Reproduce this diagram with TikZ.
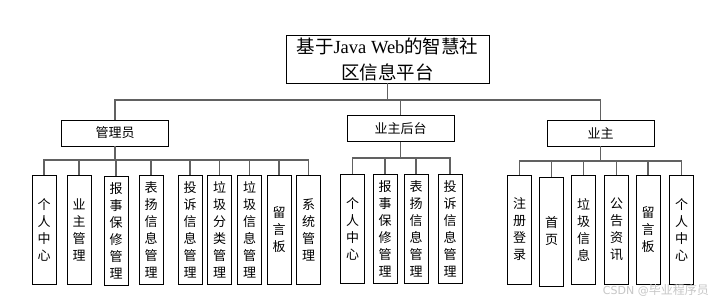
\documentclass[tikz,border=0pt]{standalone}
\usepackage{fontspec}
\setmainfont{Liberation Serif}
\newfontfamily\cjk{Noto Sans CJK SC}
\begin{document}
\begin{tikzpicture}[x=1pt,y=-1pt,
  box/.style={draw=black,line width=0.9pt,fill=white,inner sep=0pt,align=center},
  rootbox/.style={box,minimum width=203pt,minimum height=48pt,font=\fontsize{18.5}{26}\selectfont},
  midbox/.style={box,minimum width=107pt,minimum height=26pt,font=\cjk\fontsize{13}{15}\selectfont},
  leaf/.style={box,minimum width=24pt,minimum height=109pt,font=\cjk\fontsize{13}{17}\selectfont},
  conn/.style={draw=black!62,line width=1.1pt},
  wm/.style={text=black!22,font=\cjk\fontsize{12}{14}\selectfont,inner sep=0pt}]
\useasboundingbox (0,0) rectangle (722,302);
\fill[white] (0,0) rectangle (722,302);

% connector bus levels
\coordinate (b1) at (0,100);
\coordinate (b2) at (0,160);
\coordinate (b3) at (0,158);
\coordinate (b4) at (0,161);

% root
\node[rootbox] (root) at (387.5,59) {{\cjk 基于}Java Web{\cjk 的智慧社}\\{\cjk 区信息平台}};

% level 2
\node[midbox] (admin) at (115,133) {管理员};
\node[midbox] (back) at (400.5,128.5) {业主后台};
\node[midbox] (owner) at (600.5,133) {业主};

% admin children
\node[leaf] (a1) at (44,229.5) {个\\人\\中\\心};
\node[leaf] (a2) at (79,229.5) {业\\主\\管\\理};
\node[leaf] (a3) at (116,230.5) {报\\事\\保\\修\\管\\理};
\node[leaf] (a4) at (151,229.5) {表\\扬\\信\\息\\管\\理};
\node[leaf] (a5) at (190,229.5) {投\\诉\\信\\息\\管\\理};
\node[leaf] (a6) at (219.5,229.5) {垃\\圾\\分\\类\\管\\理};
\node[leaf] (a7) at (249.5,229.5) {垃\\圾\\信\\息\\管\\理};
\node[leaf] (a8) at (279,229.5) {留\\言\\板};
\node[leaf] (a9) at (308.5,229.5) {系\\统\\管\\理};

% backend children
\node[leaf] (c1) at (352.5,228.5) {个\\人\\中\\心};
\node[leaf] (c2) at (385,229) {报\\事\\保\\修\\管\\理};
\node[leaf] (c3) at (416,228.5) {表\\扬\\信\\息\\管\\理};
\node[leaf] (c4) at (450,228.5) {投\\诉\\信\\息\\管\\理};

% owner children
\node[leaf] (o1) at (519.5,229.5) {注\\册\\登\\录};
\node[leaf] (o2) at (551.5,231.5) {首\\页};
\node[leaf] (o3) at (583.5,229.5) {垃\\圾\\信\\息};
\node[leaf] (o4) at (616.5,229.5) {公\\告\\资\\讯};
\node[leaf] (o5) at (648,229.5) {留\\言\\板};
\node[leaf] (o6) at (681.5,229.5) {个\\人\\中\\心};

% connectors root -> level 2
\draw[conn] (root.south) -- (root.south |- b1);
\draw[conn] (admin.north) -- (admin.north |- b1) -- (owner.north |- b1) -- (owner.north);
\draw[conn] (back.north) -- (back.north |- b1);

% admin -> children
\draw[conn] (admin.south) -- (admin.south |- b2);
\draw[conn] (a1.north) -- (a1.north |- b2) -- (a9.north |- b2) -- (a9.north);
\foreach \n in {a2,a3,a4,a5,a6,a7,a8}
  \draw[conn] (\n.north) -- (\n.north |- b2);

% backend -> children
\draw[conn] (back.south) -- (back.south |- b3);
\draw[conn] (c1.north) -- (c1.north |- b3) -- (c4.north |- b3) -- (c4.north);
\foreach \n in {c2,c3}
  \draw[conn] (\n.north) -- (\n.north |- b3);

% owner -> children
\draw[conn] (owner.south) -- (owner.south |- b4);
\draw[conn] (o1.north) -- (o1.north |- b4) -- (o6.north |- b4) -- (o6.north);
\foreach \n in {o2,o3,o4,o5}
  \draw[conn] (\n.north) -- (\n.north |- b4);

% watermark
\node[wm,anchor=east] (wmark) at (709,290) {{\fontspec{DejaVu Sans}\fontsize{11}{13}\selectfont CSDN @}毕业程序员};
\end{tikzpicture}
\end{document}
